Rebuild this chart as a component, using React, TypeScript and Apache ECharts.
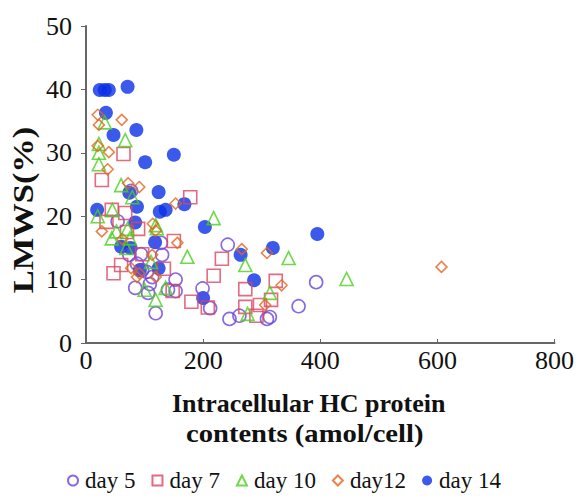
import React, { useEffect, useRef } from "react";
import * as echarts from "echarts";

const seriesNames = ["day 5", "day 7", "day 10", "day12", "day 14"];

const day5: number[][] = [
  [54, 19.2], [77, 24.0], [128, 15.8], [130, 13.9], [74, 13.9], [94, 14.0], [87, 12.5],
  [104, 11.2], [113, 10.4], [84, 8.7], [109, 9.3], [106, 7.9], [119, 4.7], [153, 10.0],
  [140, 8.4], [153, 8.2], [199, 8.6], [212, 5.5], [242, 15.5], [245, 3.8], [262, 4.3],
  [309, 3.8], [314, 4.1], [363, 5.8], [393, 9.6], [96, 11.5],
];

const day7: number[][] = [
  [27, 25.7], [64, 29.8], [178, 23.0], [44, 21.0], [67, 20.5], [35, 19.1], [89, 18.0],
  [70, 17.5], [150, 16.1], [96, 14.0], [60, 12.3], [47, 11.0], [133, 11.7], [232, 13.3],
  [218, 10.6], [272, 8.5], [180, 6.5], [208, 5.6], [272, 5.7], [291, 4.3], [297, 6.0],
  [316, 6.8], [324, 9.8], [148, 8.2],
];

const day10: number[][] = [
  [32, 34.8], [67, 32.0], [22, 31.4], [22, 30.0], [22, 28.2], [60, 24.9], [79, 23.0],
  [45, 21.0], [20, 20.0], [119, 18.6], [52, 17.6], [71, 18.0], [44, 16.5], [69, 15.0],
  [75, 16.5], [121, 18.1], [111, 12.8], [173, 13.6], [136, 8.7], [119, 6.8], [100, 8.4],
  [218, 19.7], [272, 12.3], [346, 13.4], [445, 10.1], [314, 7.9], [276, 4.6],
];

const day12: number[][] = [
  [20, 36.0], [22, 34.4], [61, 35.2], [20, 31.1], [39, 30.1], [37, 27.4], [72, 25.2],
  [91, 24.6], [153, 22.0], [27, 17.6], [114, 18.8], [119, 17.7], [156, 15.8], [62, 16.4],
  [77, 11.8], [91, 11.0], [119, 10.4], [113, 13.9], [266, 14.8], [309, 14.2], [334, 9.1],
  [306, 6.0], [607, 12.0], [87, 10.4],
];

const day14: number[][] = [
  [23.5, 39.9], [32, 39.9], [39, 39.9], [71, 40.4], [34, 36.3], [47, 32.8], [86, 33.6],
  [101, 28.5], [150, 29.7], [124, 23.8], [74, 23.7], [87, 21.5], [19, 21.0], [126, 20.7],
  [136, 21.0], [168, 21.9], [203, 18.3], [84, 19.0], [60, 15.2], [76, 15.0], [118, 15.9],
  [124, 11.8], [92, 11.5], [395, 17.2], [319, 15.0], [264, 13.9], [287, 9.9], [200, 7.1],
];

const xTicks = [0, 200, 400, 600, 800];
const yTicks = [0, 10, 20, 30, 40, 50];

const FONT = "'Liberation Serif', 'Times New Roman', serif";

export default function App() {
  const ref = useRef<HTMLDivElement>(null);
  useEffect(() => {
    if (!ref.current) return;
    const chart = echarts.init(ref.current, null, { renderer: "svg" });
    const hollow = (color: string) => ({ color: "rgba(0,0,0,0)", borderColor: color, borderWidth: 1.6 });
    const datas = [day5, day7, day10, day12, day14];
    const symbols = ["circle", "rect", "triangle", "diamond", "circle"];
    const sizes = [13, 13, 13, 11, 14];
    const colors = ["#6a44dc", "#dc4560", "#4ccf1e", "#e2661f", "#0a2fe6"];
    const series = datas.map((d, i) => ({
      name: seriesNames[i],
      type: "scatter",
      data: d,
      symbol: symbols[i],
      symbolSize: sizes[i],
      itemStyle: i === 4 ? { color: colors[i] } : hollow(colors[i]),
      z: i === 4 ? 1 : 2,
    }));
    chart.setOption({
      animation: false,
      grid: { left: 86, right: 15, top: 26, bottom: 154 },
      xAxis: {
        type: "value",
        min: xTicks[0],
        max: xTicks[xTicks.length - 1],
        interval: 200,
        splitLine: { show: false },
        axisLine: { lineStyle: { color: "#666", width: 2 } },
        axisTick: { inside: true, length: 4, lineStyle: { color: "#666" } },
        axisLabel: { color: "#111", fontSize: 26, fontFamily: FONT, margin: 4 },
      },
      yAxis: {
        type: "value",
        min: yTicks[0],
        max: yTicks[yTicks.length - 1],
        interval: 10,
        splitLine: { show: false },
        axisLine: { show: true, lineStyle: { color: "#666", width: 2 } },
        axisTick: { show: true, length: 5, lineStyle: { color: "#666" } },
        axisLabel: { color: "#111", fontSize: 26, fontFamily: FONT, margin: 14 },
      },
      legend: {
        data: seriesNames,
        left: 62,
        top: 464,
        itemWidth: 10,
        itemHeight: 10,
        itemGap: 16,
        textStyle: { color: "#111", fontSize: 23, fontFamily: FONT, padding: [0, 0, 0, 2] },
      },
      graphic: [
        {
          type: "text",
          x: 23,
          y: 210,
          rotation: Math.PI / 2,
          scaleX: 1.15,
          style: {
            text: "LMWS(%)",
            font: `bold 30px ${FONT}`,
            fill: "#111",
            textAlign: "center",
            textVerticalAlign: "middle",
          },
        },
        {
          type: "text",
          x: 172,
          y: 403,
          style: {
            text: "Intracellular HC protein",
            font: `bold 26px ${FONT}`,
            fill: "#111",
            textAlign: "left",
            textVerticalAlign: "middle",
          },
        },
        {
          type: "text",
          x: 186,
          y: 433,
          scaleX: 1.1,
          style: {
            text: "contents (amol/cell)",
            font: `bold 26px ${FONT}`,
            fill: "#111",
            textAlign: "left",
            textVerticalAlign: "middle",
          },
        },
      ],
      series,
    });
    return () => chart.dispose();
  }, []);
  return <div ref={ref} style={{ width: 577, height: 497, position: "absolute", left: 0, top: 0 }} />;
}
